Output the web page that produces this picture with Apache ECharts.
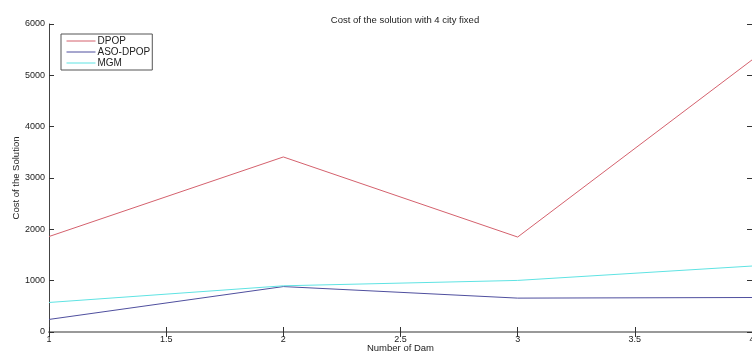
<!DOCTYPE html>
<html>
<head>
<meta charset="utf-8">
<script src="https://cdn.jsdelivr.net/npm/echarts@6/dist/echarts.min.js"></script>
<style>html,body{margin:0;padding:0;background:#fff;}#c{width:752px;height:353px;}</style>
</head>
<body>
<div id="c"></div>
<script>
var xValues = [1, 2, 3, 4];
var dpop = [1860, 3410, 1850, 5300];
var asoDpop = [245, 885, 660, 672];
var mgm = [575, 900, 1005, 1285];
var seriesNames = ['DPOP', 'ASO-DPOP', 'MGM'];
var seriesColors = ['#d4616d', '#4f4f9e', '#5fe3e3'];

function pairs(vals){ return xValues.map(function(x,i){ return [x, vals[i]]; }); }

var chart = echarts.init(document.getElementById('c'));
var font = 'Liberation Sans, Arial, sans-serif';
var axisBase = {
  type: 'value',
  splitLine: {show: false},
  axisTick: {show: true, inside: true, length: 5, lineStyle: {color: '#333'}},
  axisLine: {show: true, lineStyle: {color: '#444', width: 1}},
  axisLabel: {fontSize: 9, color: '#222', fontFamily: font}
};
function ax(extra){ return Object.assign({}, JSON.parse(JSON.stringify(axisBase)), extra); }
function plain(v){ return String(v); }

chart.setOption({
  animation: false,
  backgroundColor: '#fff',
  title: {
    text: 'Cost of the solution with 4 city fixed',
    left: 400, top: 10, textAlign: 'center',
    textStyle: {fontSize: 9.5, fontWeight: 'normal', color: '#222', fontFamily: font}
  },
  legend: {
    orient: 'vertical', left: 61, top: 34,
    data: seriesNames,
    itemWidth: 29, itemHeight: 10, itemGap: 1,
    itemStyle: {opacity: 0},
    lineStyle: {width: 1},
    borderColor: '#555', borderWidth: 1, padding: [2, 2, 2, 5],
    backgroundColor: '#fff',
    textStyle: {fontSize: 10, color: '#222', fontFamily: font, padding: [0,0,0,-3]}
  },
  grid: {left: 49, right: 0, top: 24, bottom: 21, containLabel: false, outerBoundsMode: 'none'},
  xAxis: [
    ax({min: 1, max: 4, interval: 0.5, position: 'bottom',
        name: 'Number of Dam', nameLocation: 'middle', nameGap: 11, nameMoveOverlap: false,
        nameTextStyle: {fontSize: 9.5, color: '#222', fontFamily: font, verticalAlign: 'top'},
        axisLabel: {fontSize: 9, color: '#222', fontFamily: font, margin: 3, formatter: plain}}),
    ax({min: 1, max: 4, interval: 0.5, position: 'top',
        axisLabel: {show: false}, axisLine: {show: true, lineStyle: {color: '#999', width: 2}}})
  ],
  yAxis: [
    ax({min: 0, max: 6000, interval: 1000, position: 'left',
        name: 'Cost of the Solution', nameLocation: 'middle', nameGap: 28, nameMoveOverlap: false,
        nameTextStyle: {fontSize: 9.5, color: '#222', fontFamily: font},
        axisLabel: {fontSize: 9, color: '#222', fontFamily: font, margin: 4, formatter: plain}}),
    ax({min: 0, max: 6000, interval: 1000, position: 'right', axisLabel: {show: false}})
  ],
  series: [
    {name: seriesNames[0], type: 'line', data: pairs(dpop), symbol: 'none', lineStyle: {width: 1, color: seriesColors[0]}, itemStyle: {color: seriesColors[0]}},
    {name: seriesNames[1], type: 'line', data: pairs(asoDpop), symbol: 'none', lineStyle: {width: 1, color: seriesColors[1]}, itemStyle: {color: seriesColors[1]}},
    {name: seriesNames[2], type: 'line', data: pairs(mgm), symbol: 'none', lineStyle: {width: 1, color: seriesColors[2]}, itemStyle: {color: seriesColors[2]}}
  ]
});
</script>
</body>
</html>
